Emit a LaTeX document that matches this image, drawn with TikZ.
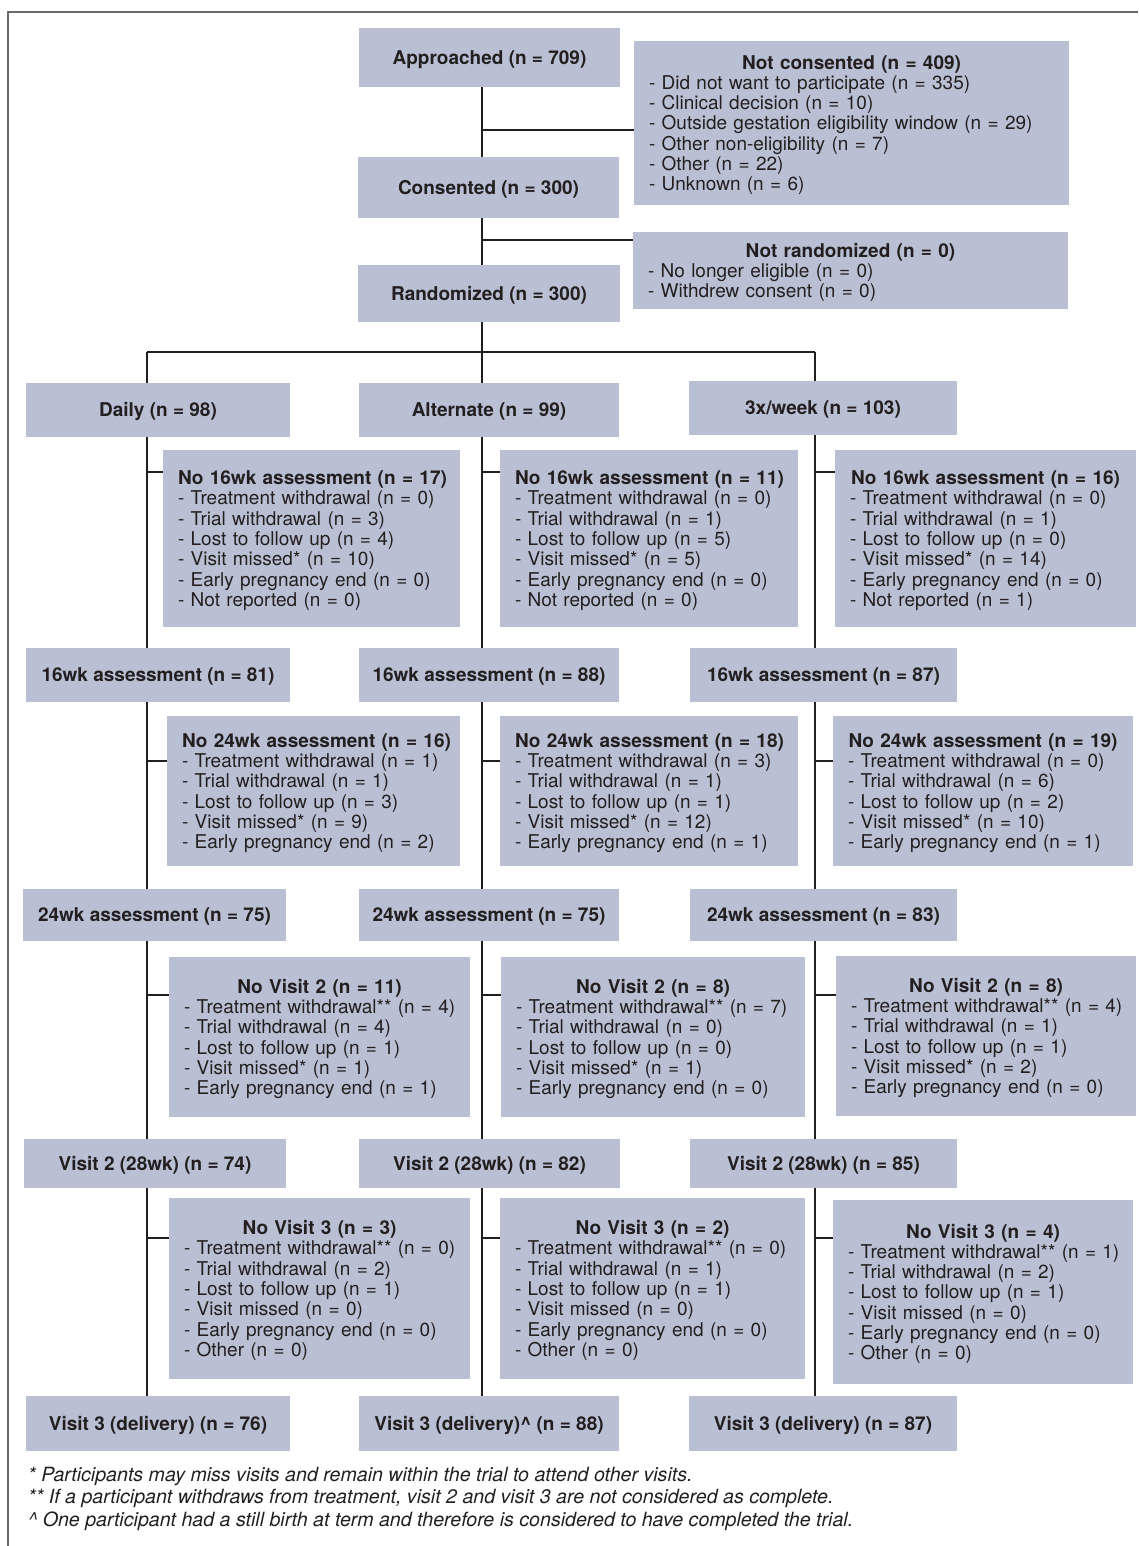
\documentclass[tikz,border=0pt]{standalone}
\usepackage{fontspec}
\setmainfont{TeX Gyre Heros}
\usetikzlibrary{backgrounds}

\definecolor{boxblue}{RGB}{185,192,212}
\definecolor{inkdark}{RGB}{35,31,32}
\definecolor{framegray}{RGB}{105,105,105}

% centred bold title over a left-aligned list
\newcommand{\droplist}[2]{{\centering\bfseries\rule{0pt}{20pt}\mbox{#1}\par}\begin{tabular}[t]{@{}l@{}}#2\end{tabular}}

\begin{document}
\begin{tikzpicture}[x = 1pt, y = -1pt,
	stage/.style = {fill = boxblue, text = inkdark, font = \bfseries\fontsize{19}{20.3}\selectfont, minimum width = 262, minimum height = 54, inner sep = 0, text height = 13.6, text depth = 0},
	drop/.style = {fill = boxblue, text = inkdark, font = \fontsize{19}{20.3}\selectfont, inner xsep = 15, inner ysep = 0, align = left},
	link/.style = {draw = inkdark, line width = 1.8},
	note/.style = {text = inkdark, font = \itshape\fontsize{19.6}{22}\selectfont, anchor = base west, inner sep = 0}]

	\useasboundingbox (0, 0) rectangle (1138, 1546);

	% Outer frame
	
	\draw [framegray, line width = 2] (8, 1546) -- (8, 12) -- (1138, 12);
	
	% Enrolment
	
	\node [stage, minimum width = 261, minimum height = 59] (appr) at (489.5, 57.5) {Approached (n = 709)};
	\node [drop, text width = 405, minimum height = 164] (noncons) at (851.5, 123) {\droplist{Not consented (n = 409)}{%
		- Did not want to participate (n = 335)\\
		- Clinical decision (n = 10)\\
		- Outside gestation eligibility window (n = 29)\\
		- Other non-eligibility (n = 7)\\
		- Other (n = 22)\\
		- Unknown (n = 6)}};
	\node [stage, minimum width = 261, minimum height = 61] (cons) at (488.5, 187.5) {Consented (n = 300)};
	\node [drop, text width = 405, minimum height = 77] (nonrand) at (850.5, 270.5) {\droplist{Not randomized (n = 0)}{%
		- No longer eligible (n = 0)\\
		- Withdrew consent (n = 0)}};
	\node [stage, minimum height = 57] (rand) at (489, 293.5) {Randomized (n = 300)};
	
	% Arms
	
	\node [stage, minimum width = 264] (daily) at (158, 409.5) {Daily (n = 98)};
	\node [stage, minimum width = 260] (altern) at (489, 409.5) {Alternate (n = 99)};
	\node [stage, minimum width = 268] (thrice) at (823, 408) {3x/week (n = 103)};
	
	% 16 weeks
	
	\node [drop, text width = 267, minimum height = 177] (no16d) at (311.5, 538.5) {\droplist{No 16wk assessment (n = 17)}{%
		- Treatment withdrawal (n = 0)\\
		- Trial withdrawal (n = 3)\\
		- Lost to follow up (n = 4)\\
		- Visit missed* (n = 10)\\
		- Early pregnancy end (n = 0)\\
		- Not reported (n = 0)}};
	\node [drop, text width = 268, minimum height = 177] (no16a) at (649, 538.5) {\droplist{No 16wk assessment (n = 11)}{%
		- Treatment withdrawal (n = 0)\\
		- Trial withdrawal (n = 1)\\
		- Lost to follow up (n = 5)\\
		- Visit missed* (n = 5)\\
		- Early pregnancy end (n = 0)\\
		- Not reported (n = 0)}};
	\node [drop, text width = 271, minimum height = 177] (no16t) at (985.5, 538.5) {\droplist{No 16wk assessment (n = 16)}{%
		- Treatment withdrawal (n = 0)\\
		- Trial withdrawal (n = 1)\\
		- Lost to follow up (n = 0)\\
		- Visit missed* (n = 14)\\
		- Early pregnancy end (n = 0)\\
		- Not reported (n = 1)}};
	
	\node [stage, minimum width = 264] (wk16d) at (158, 675) {16wk assessment (n = 81)};
	\node [stage, minimum width = 260] (wk16a) at (489, 675) {16wk assessment (n = 88)};
	\node [stage, minimum width = 267] (wk16t) at (823.5, 675) {16wk assessment (n = 87)};
	
	% 24 weeks
	
	\node [drop, text width = 263, minimum height = 150] (no24d) at (313.5, 791) {\droplist{No 24wk assessment (n = 16)}{%
		- Treatment withdrawal (n = 1)\\
		- Trial withdrawal (n = 1)\\
		- Lost to follow up (n = 3)\\
		- Visit missed* (n = 9)\\
		- Early pregnancy end (n = 2)}};
	\node [drop, text width = 268, minimum height = 150] (no24a) at (649, 791) {\droplist{No 24wk assessment (n = 18)}{%
		- Treatment withdrawal (n = 3)\\
		- Trial withdrawal (n = 1)\\
		- Lost to follow up (n = 1)\\
		- Visit missed* (n = 12)\\
		- Early pregnancy end (n = 1)}};
	\node [drop, text width = 270, minimum height = 150] (no24t) at (983, 791) {\droplist{No 24wk assessment (n = 19)}{%
		- Treatment withdrawal (n = 0)\\
		- Trial withdrawal (n = 6)\\
		- Lost to follow up (n = 2)\\
		- Visit missed* (n = 10)\\
		- Early pregnancy end (n = 1)}};
	
	\node [stage, minimum width = 263, minimum height = 52] (wk24d) at (154.5, 915) {24wk assessment (n = 75)};
	\node [stage, minimum width = 260, minimum height = 52] (wk24a) at (489, 915) {24wk assessment (n = 75)};
	\node [stage, minimum width = 267, minimum height = 52] (wk24t) at (823.5, 915) {24wk assessment (n = 83)};
	
	% Visit 2
	
	\node [drop, text width = 271, minimum height = 160] (nov2d) at (319.5, 1037) {\droplist{No Visit 2 (n = 11)}{%
		- Treatment withdrawal** (n = 4)\\
		- Trial withdrawal (n = 4)\\
		- Lost to follow up (n = 1)\\
		- Visit missed* (n = 1)\\
		- Early pregnancy end (n = 1)}};
	\node [drop, text width = 274, minimum height = 160] (nov2a) at (653, 1037) {\droplist{No Visit 2 (n = 8)}{%
		- Treatment withdrawal** (n = 7)\\
		- Trial withdrawal (n = 0)\\
		- Lost to follow up (n = 0)\\
		- Visit missed* (n = 1)\\
		- Early pregnancy end (n = 0)}};
	\node [drop, text width = 270, minimum height = 160] (nov2t) at (986, 1036) {\droplist{No Visit 2 (n = 8)}{%
		- Treatment withdrawal** (n = 4)\\
		- Trial withdrawal (n = 1)\\
		- Lost to follow up (n = 1)\\
		- Visit missed* (n = 2)\\
		- Early pregnancy end (n = 0)}};
	
	\node [stage, minimum height = 49] (v2d) at (155, 1163.5) {Visit 2 (28wk) (n = 74)};
	\node [stage, minimum width = 261, minimum height = 49] (v2a) at (489.5, 1163.5) {Visit 2 (28wk) (n = 82)};
	\node [stage, minimum width = 267, minimum height = 49] (v2t) at (823.5, 1163.5) {Visit 2 (28wk) (n = 85)};
	
	% Visit 3
	
	\node [drop, text width = 271, minimum height = 181] (nov3d) at (319.5, 1288.5) {\droplist{No Visit 3 (n = 3)}{%
		- Treatment withdrawal** (n = 0)\\
		- Trial withdrawal (n = 2)\\
		- Lost to follow up (n = 1)\\
		- Visit missed (n = 0)\\
		- Early pregnancy end (n = 0)\\
		- Other (n = 0)}};
	\node [drop, text width = 275, minimum height = 181] (nov3a) at (652.5, 1288.5) {\droplist{No Visit 3 (n = 2)}{%
		- Treatment withdrawal** (n = 0)\\
		- Trial withdrawal (n = 1)\\
		- Lost to follow up (n = 1)\\
		- Visit missed (n = 0)\\
		- Early pregnancy end (n = 0)\\
		- Other (n = 0)}};
	\node [drop, text width = 270, minimum height = 184] (nov3t) at (983, 1292) {\droplist{No Visit 3 (n = 4)}{%
		- Treatment withdrawal** (n = 1)\\
		- Trial withdrawal (n = 2)\\
		- Lost to follow up (n = 1)\\
		- Visit missed (n = 0)\\
		- Early pregnancy end (n = 0)\\
		- Other (n = 0)}};
	
	\node [stage, minimum width = 264, minimum height = 55] (v3d) at (158, 1423.5) {Visit 3 (delivery) (n = 76)};
	\node [stage, minimum width = 260, minimum height = 55] (v3a) at (489, 1423.5) {Visit 3 (delivery)\textasciicircum\ (n = 88)};
	\node [stage, minimum width = 268, minimum height = 55] (v3t) at (823, 1423.5) {Visit 3 (delivery) (n = 87)};
	
	% Footnotes
	
	\node [note] (fn1) at (28, 1481) {* Participants may miss visits and remain within the trial to attend other visits.};
	\node [note] (fn2) at (28, 1503.5) {** If a participant withdraws from treatment, visit 2 and visit 3 are not considered as complete.};
	\node [note] (fn3) at (28, 1526) {\textasciicircum\ One participant had a still birth at term and therefore is considered to have completed the trial.};
	
	% Connectors behind the boxes
	
	\begin{scope}[on background layer]
		\coordinate (colD) at (147, 352);
		\coordinate (colA) at (482, 352);
		\coordinate (colT) at (815, 352);
		
		\draw [link] (appr.south -| colA) -- (v3a.north -| colA);
		\draw [link] (colA |- 0,130) -- (noncons.west |- 0,130);
		\draw [link] (colA |- 0,240) -- (nonrand.west |- 0,240);
		
		\draw [link] (colD) -- (colT);
		\draw [link] (colD) -- (v3d.north -| colD);
		\draw [link] (colT) -- (v3t.north -| colT);
		
		\foreach \arm/\tag in {colD/d, colA/a, colT/t} {
			\draw [link] (\arm |- 0,472) -- (no16\tag.west |- 0,472);
			\draw [link] (\arm |- 0,761) -- (no24\tag.west |- 0,761);
			\draw [link] (\arm |- 0,995) -- (nov2\tag.west |- 0,995);
			\draw [link] (\arm |- 0,1238) -- (nov3\tag.west |- 0,1238);
		}
	\end{scope}

\end{tikzpicture}
\end{document}
